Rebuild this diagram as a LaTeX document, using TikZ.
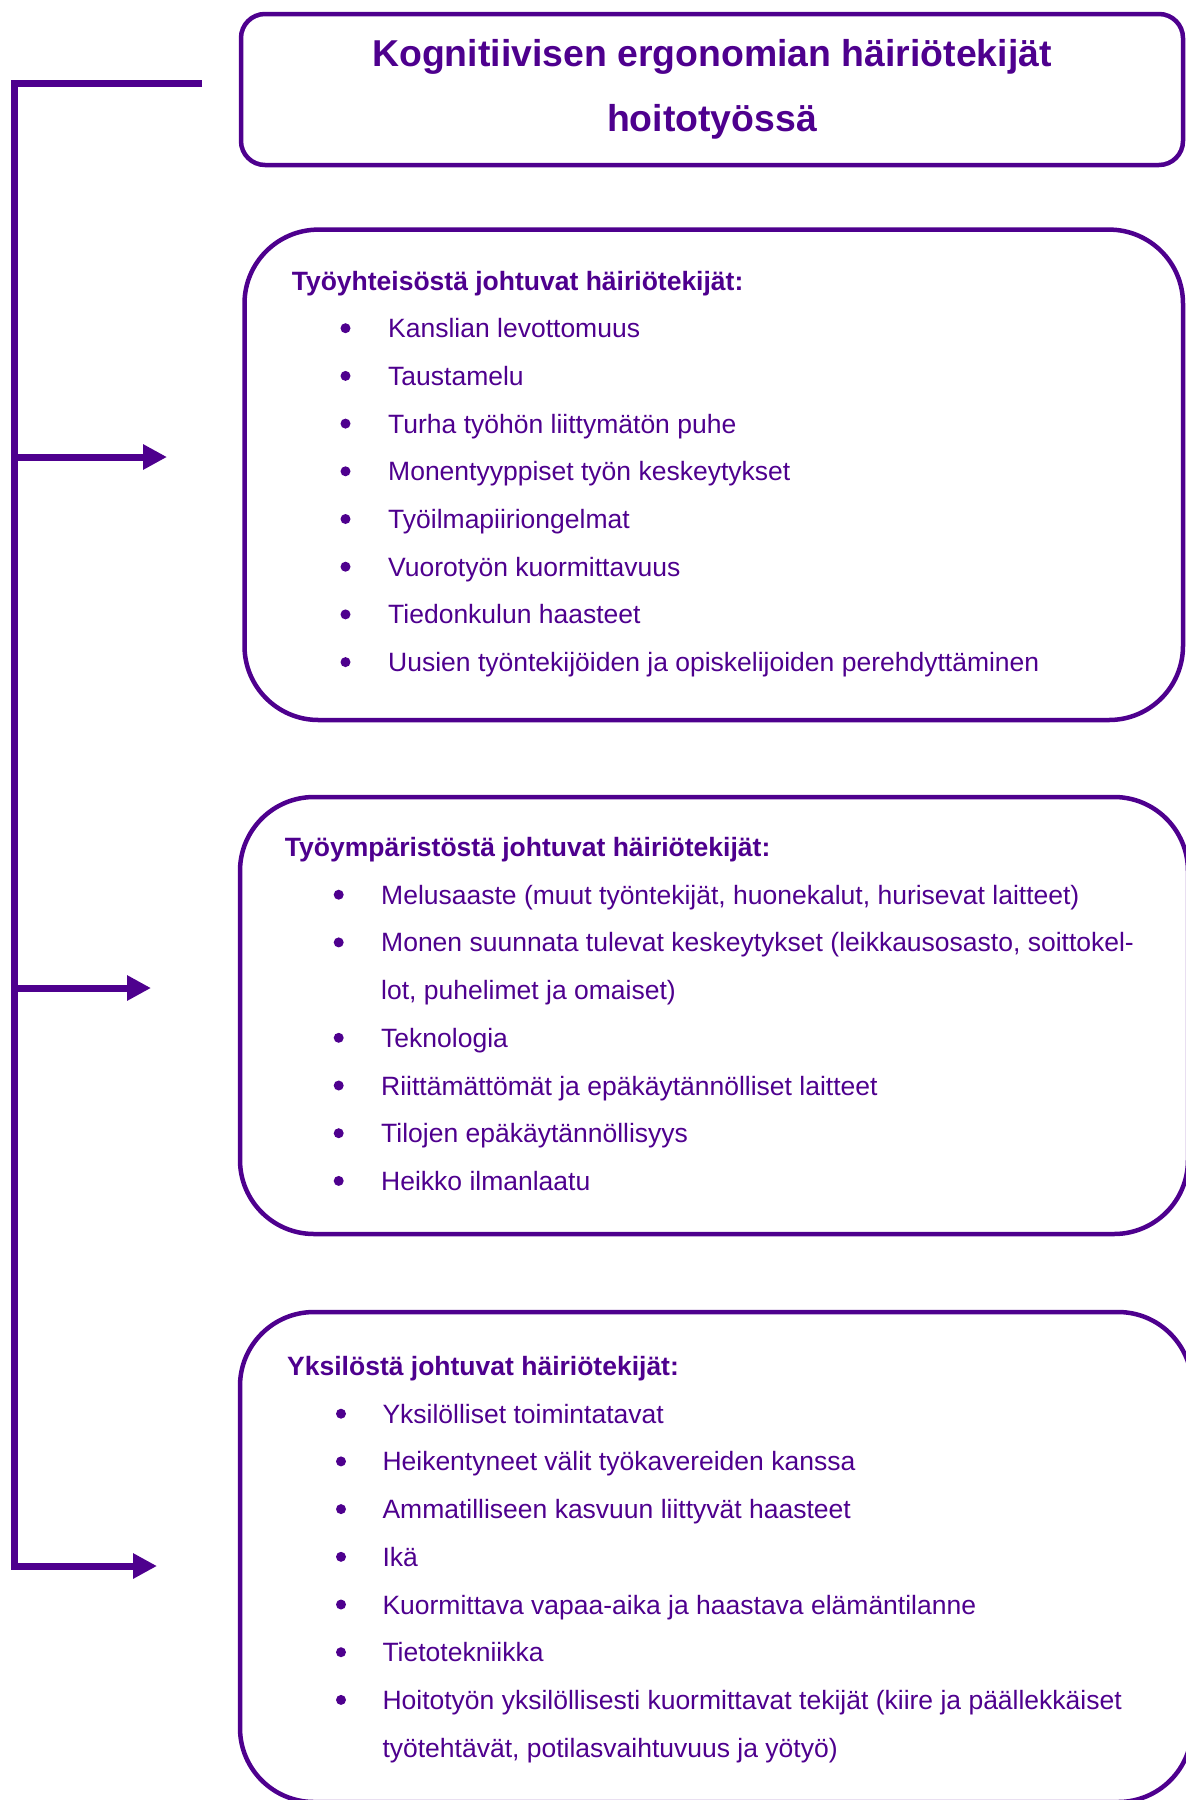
\documentclass[tikz,border=0pt]{standalone}
\usepackage{fontspec}
\setmainfont{Liberation Sans}
\usetikzlibrary{arrows.meta}
\definecolor{hoito}{RGB}{78,0,142}
\newcommand\itemfont{\fontsize{26.5}{31.8}\selectfont}
\newcommand\titlefont{\fontsize{37.4}{65.4}\selectfont\bfseries}

\begin{document}
\begin{tikzpicture} [
        x=1pt, y=-1pt,
        box/.style = {draw=hoito, line width=4.5pt, rounded corners=74pt, inner sep=0pt},
        title box/.style = {box, rounded corners=24pt, align=center, text=hoito, font=\titlefont},
        heading/.style = {anchor=base west, inner sep=0pt, text=hoito, font={\itemfont\bfseries}},
        item/.style = {anchor=base west, inner sep=0pt, text=hoito, font=\itemfont},
        dot/.style = {circle, fill=hoito, minimum size=10pt, inner sep=0pt},
        link/.style = {draw=hoito, line width=7pt},
        arrow/.style = {link, -{Triangle[length=24pt,width=24pt]}},
    ]
    \useasboundingbox (0,0) rectangle (1186,1800);
    % Title and the three boxes
    \node[title box, minimum width=942pt, minimum height=151pt] (title) at (712,89.5)
        {Kognitiivisen ergonomian häiriötekijät\\hoitotyössä};
    \node[box, minimum width=938.5pt, minimum height=490.4pt] (box1) at (713.75,474.8) {};
    \node[box, minimum width=948pt, minimum height=437pt] (box2) at (714,1015.5) {};
    \node[box, minimum width=952pt, minimum height=490pt] (box3) at (716,1557) {};
    % The bracket on the left with its arrows
    \coordinate (stub) at (202,83);
    \coordinate (trunk top) at (14,83);
    \coordinate (trunk bottom) at (14,1566);
    \coordinate (tip1) at (167,457);
    \coordinate (tip2) at (151,988);
    \coordinate (tip3) at (157,1566);
    \draw[arrow] (stub) -- (trunk top) -- (trunk bottom) -- (tip3);
    \draw[arrow] (trunk top |- tip1) -- (tip1);
    \draw[arrow] (trunk top |- tip2) -- (tip2);
    % First box: work community
    \node[heading] (head1) at (291.6,290) {Työyhteisöstä johtuvat häiriötekijät:};
    \foreach \n/\txt in {
            1/Kanslian levottomuus, 2/Taustamelu, 3/Turha työhön liittymätön puhe,
            4/Monentyyppiset työn keskeytykset, 5/Työilmapiiriongelmat,
            6/Vuorotyön kuormittavuus, 7/Tiedonkulun haasteet,
            8/Uusien työntekijöiden ja opiskelijoiden perehdyttäminen}
        \node[item] (yht\n) at (388,290+47.7*\n) {\txt};
    \foreach \n in {1,...,8}
        \node[dot] (yhtdot\n) at (345.5,280.5+47.7*\n) {};
    % Second box: work environment
    \node[heading] (head2) at (284.7,856.5) {Työympäristöstä johtuvat häiriötekijät:};
    \foreach \n/\txt in {
            1/{Melusaaste (muut työntekijät, huonekalut, hurisevat laitteet)},
            2/{Monen suunnata tulevat keskeytykset (leikkausosasto, soittokel-},
            3/{lot, puhelimet ja omaiset)}, 4/Teknologia,
            5/Riittämättömät ja epäkäytännölliset laitteet,
            6/Tilojen epäkäytännöllisyys, 7/Heikko ilmanlaatu}
        \node[item] (ymp\n) at (381,856.5+47.7*\n) {\txt};
    \foreach \n in {1,2,4,5,6,7}
        \node[dot] (ympdot\n) at (338.7,847+47.7*\n) {};
    % Third box: the individual
    \node[heading] (head3) at (287,1375.5) {Yksilöstä johtuvat häiriötekijät:};
    \foreach \n/\txt in {
            1/Yksilölliset toimintatavat, 2/Heikentyneet välit työkavereiden kanssa,
            3/Ammatilliseen kasvuun liittyvät haasteet, 4/Ikä,
            5/Kuormittava vapaa-aika ja haastava elämäntilanne, 6/Tietotekniikka,
            7/{Hoitotyön yksilöllisesti kuormittavat tekijät (kiire ja päällekkäiset},
            8/{työtehtävät, potilasvaihtuvuus ja yötyö)}}
        \node[item] (yks\n) at (382.3,1375.5+47.7*\n) {\txt};
    \foreach \n in {1,...,7}
        \node[dot] (yksdot\n) at (341,1366+47.7*\n) {};
\end{tikzpicture}
\end{document}
